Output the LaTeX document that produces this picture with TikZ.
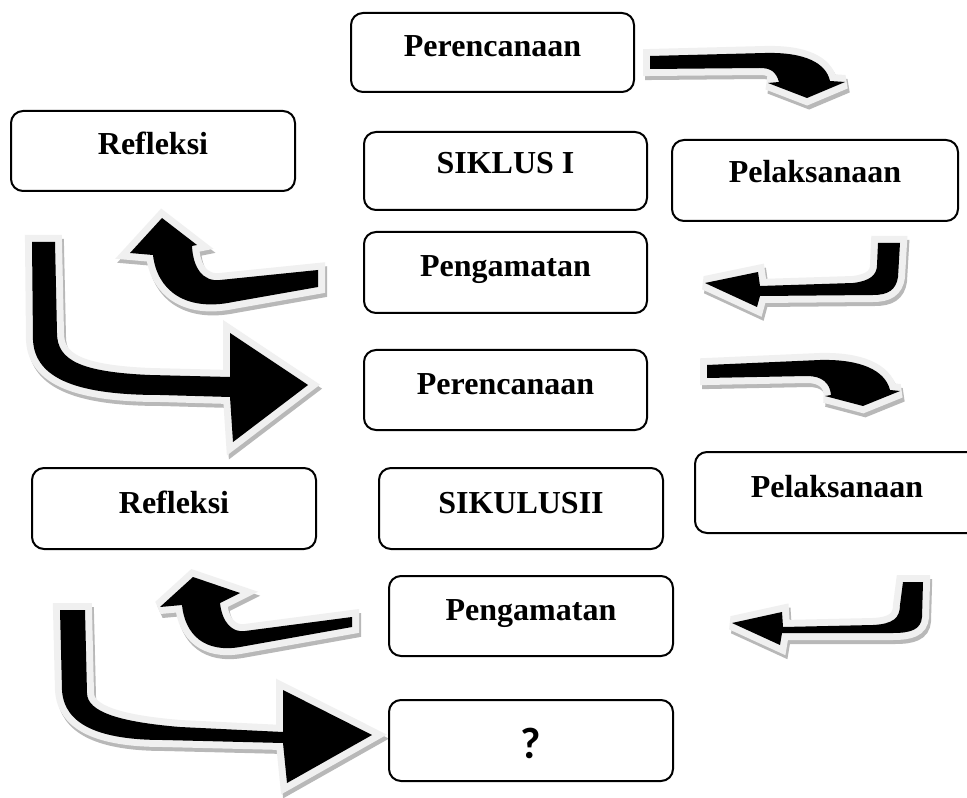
\documentclass[tikz,border=0pt]{standalone}
\usepackage{fontspec}
\setmainfont{Liberation Serif}
\newfontfamily\qfont{Carlito}
\usetikzlibrary{fit}
\tikzset{
  boxst/.style={draw=black, line width=1.5pt, rounded corners=9pt, inner sep=0pt, fill=white},
  lbl/.style={anchor=base, inner sep=0pt, font=\fontsize{24}{28}\selectfont\bfseries},
  qlbl/.style={anchor=base, inner sep=0pt, font=\qfont\fontsize{33}{36}\selectfont\bfseries},
  arrshadow/.style={fill=black!28, draw=black!28, line width=10.5pt, line join=miter, miter limit=3},
  arroutline/.style={fill=black!6, draw=black!6, line width=10.5pt, line join=miter, miter limit=3},
}
\newcommand\fancyarrow[1]{%
  \filldraw[arrshadow, shift={(2,4)}] #1;
  \filldraw[arroutline] #1;
  \fill[black] #1;}
\begin{document}
\begin{tikzpicture}[x=0.75pt, y=-0.75pt]
\useasboundingbox (0,0) rectangle (967,798);
\fill[white] (0,0) rectangle (967,798);

% ---- arrows (decorative block arrows) ----
% A: Perencanaan -> Pelaksanaan
\fancyarrow{(650,56) -- (765,53) .. controls (805,52) and (826,63) .. (830,81) -- (845,82) -- (807,98) -- (768,83) -- (779,82) .. controls (776,72) and (771,68) .. (760,68) -- (650,69) -- cycle}
% B: Pelaksanaan -> Pengamatan
\fancyarrow{(878,243) -- (900,243) -- (898,277) .. controls (896,290) and (888,295) .. (873,295) -- (760,296) -- (757,307) -- (705,283) -- (758,272) -- (760,286) -- (853,283) .. controls (870,281) and (877,275) .. (877,265) -- cycle}
% C: Pengamatan -> Refleksi
\fancyarrow{(318,270) -- (318,287) -- (233,302) .. controls (185,312) and (157,290) .. (153,255) -- (130,253) -- (162,218) -- (197,245) -- (192,246) .. controls (193,268) and (203,282) .. (220,280) -- cycle}
% D: Refleksi -> Perencanaan II
\fancyarrow{(32,242) -- (33,340) .. controls (35,380) and (80,395) .. (160,395) -- (230,397) -- (233,442) -- (308,385) -- (230,333) -- (230,377) -- (150,375) .. controls (80,372) and (57,360) .. (57,333) -- (55,242) -- cycle}
% E: Perencanaan II -> Pelaksanaan II
\fancyarrow{(707,365) -- (820,360) .. controls (860,359) and (885,370) .. (890,390) -- (900,391) -- (863,406) -- (825,396) -- (831,395) .. controls (830,383) and (822,376) .. (807,376) -- (707,378) -- cycle}
% F: Pengamatan II -> Refleksi II
\fancyarrow{(352,617) -- (352,627) -- (240,647) .. controls (205,653) and (185,635) .. (182,605) -- (160,607) -- (193,577) -- (240,593) -- (220,603) .. controls (222,622) and (232,633) .. (245,631) -- cycle}
% G: Refleksi II -> ?
\fancyarrow{(60,610) -- (62,690) .. controls (64,725) and (100,740) .. (163,740) -- (283,743) -- (287,783) -- (372,735) -- (283,690) -- (283,732) -- (180,727) .. controls (120,722) and (87,712) .. (87,693) -- (85,610) -- cycle}
% H: Pelaksanaan II -> Pengamatan II
\fancyarrow{(903,582) -- (923,582) -- (922,617) .. controls (921,630) and (910,633) .. (893,633) -- (782,633) -- (780,645) -- (732,623) -- (782,612) -- (783,627) -- (873,625) .. controls (893,624) and (900,618) .. (900,605) -- cycle}

% ---- boxes ----
\node[boxst, fit={(351,13) (634,92)}] (per1) {};
\node[boxst, fit={(11,111) (295,191)}] (ref1) {};
\node[boxst, fit={(364,132) (647,210)}] (sik1) {};
\node[boxst, fit={(672,140) (958,221)}] (pel1) {};
\node[boxst, fit={(364,232) (647,313)}] (pen1) {};
\node[boxst, fit={(364,350) (647,430)}] (per2) {};
\node[boxst, fit={(32,468) (316,549)}] (ref2) {};
\node[boxst, fit={(379,468) (663,549)}] (sik2) {};
\node[boxst, fit={(695,452) (979,533)}] (pel2) {};
\node[boxst, fit={(389,576) (673,656)}] (pen2) {};
\node[boxst, fit={(389,700) (673,781)}] (q) {};

% ---- labels ----
\node[lbl] (tper1) at (492.5,57) {Perencanaan};
\node[lbl] (tref1) at (153,155) {Refleksi};
\node[lbl] (tsik1) at (505.5,174) {SIKLUS I};
\node[lbl] (tpel1) at (815,183) {Pelaksanaan};
\node[lbl] (tpen1) at (505.5,277) {Pengamatan};
\node[lbl] (tper2) at (505.5,395) {Perencanaan};
\node[lbl] (tref2) at (174,513) {Refleksi};
\node[lbl] (tsik2) at (521,513) {SIKULUSII};
\node[lbl] (tpel2) at (837,497) {Pelaksanaan};
\node[lbl] (tpen2) at (531,620) {Pengamatan};
\node[qlbl] (tq) at (531,758) {?};
\end{tikzpicture}
\end{document}
